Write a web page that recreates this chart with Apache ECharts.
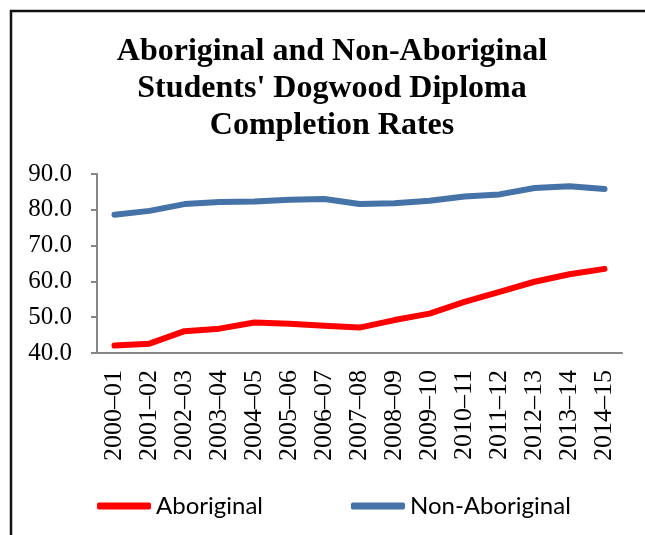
<!DOCTYPE html>
<html>
<head>
<meta charset="utf-8">
<script src="https://cdn.jsdelivr.net/npm/echarts@6/dist/echarts.min.js"></script>
<style>
html, body { margin: 0; padding: 0; background: #fff; }
#main { width: 645px; height: 535px; }
</style>
</head>
<body>
<div id="main"></div>
<script>
//数据
var years = ['2000–01', '2001–02', '2002–03', '2003–04', '2004–05', '2005–06', '2006–07', '2007–08',
	'2008–09', '2009–10', '2010–11', '2011–12', '2012–13', '2013–14', '2014–15'];
var aboriginal = [42.1, 42.6, 46.1, 46.8, 48.5, 48.2, 47.6, 47.1, 49.2, 51.0, 54.3, 57.1, 59.9, 62.0, 63.5];
var nonAboriginal = [78.6, 79.7, 81.6, 82.2, 82.3, 82.8, 83.0, 81.6, 81.8, 82.5, 83.7, 84.3, 86.1, 86.6, 85.8];

var serif = '"Liberation Serif", "Times New Roman", serif';

function line() {
	var lineChart = echarts.init(document.getElementById('main'));
	lineChart.setOption({
		animation: false,
		title: {
			text: 'Aboriginal and Non-Aboriginal\nStudents\' Dogwood Diploma\nCompletion Rates',
			left: 332,
			textAlign: 'center',
			top: 33,
			padding: 0,
			textStyle: {
				fontFamily: serif,
				fontWeight: 'bold',
				fontSize: 32,
				lineHeight: 37,
				color: '#000'
			}
		},
		legend: {
			left: 97,
			top: 494,
			padding: 0,
			itemWidth: 54,
			itemHeight: 7,
			itemGap: 88,
			icon: 'roundRect',
			textStyle: {
				fontFamily: 'Lato, "Open Sans", sans-serif',
				fontSize: 24,
				color: '#000'
			},
			data: ['Aboriginal', 'Non-Aboriginal']
		},
		grid: {
			left: 97,
			right: 23,
			top: 174,
			bottom: 182,
			containLabel: false
		},
		xAxis: {
			type: 'category',
			data: years,
			boundaryGap: true,
			axisLine: { lineStyle: { color: '#868686', width: 2 } },
			axisTick: { length: 6, lineStyle: { color: '#868686', width: 2 } },
			axisLabel: {
				rotate: 90,
				interval: 0,
				margin: 17,
				color: '#000',
				fontFamily: serif,
				fontSize: 26
			}
		},
		yAxis: {
			type: 'value',
			min: 40,
			max: 90,
			interval: 10,
			splitLine: { show: false },
			axisLine: { show: true, lineStyle: { color: '#868686', width: 2 } },
			axisTick: { show: true, length: 6, lineStyle: { color: '#868686', width: 2 } },
			axisLabel: {
				margin: 25,
				color: '#000',
				fontFamily: serif,
				fontSize: 25,
				formatter: function(value) {
					return value.toFixed(1);
				}
			}
		},
		series: [{
				name: 'Aboriginal',
				type: 'line',
				data: aboriginal,
				symbol: 'none',
				color: '#ff0000',
				lineStyle: { width: 6, cap: 'round', join: 'round' }
			},
			{
				name: 'Non-Aboriginal',
				type: 'line',
				data: nonAboriginal,
				symbol: 'none',
				color: '#4572a7',
				lineStyle: { width: 6, cap: 'round', join: 'round' }
			}
		],
		graphic: [{
			type: 'polyline',
			shape: { points: [[11, 535], [11, 11], [645, 11]] },
			style: { stroke: '#111', lineWidth: 2.5, fill: null }
		}]
	});
	return lineChart;
}

line();
</script>
</body>
</html>
